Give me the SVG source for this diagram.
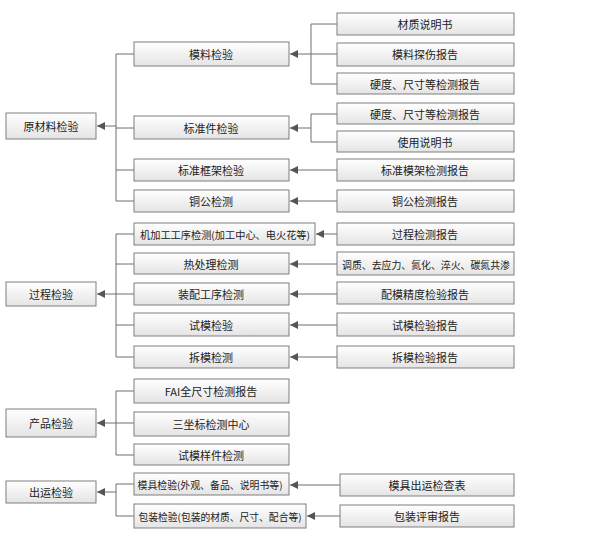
<svg xmlns="http://www.w3.org/2000/svg" width="600" height="538" viewBox="0 0 600 538">
<style>
.b{fill:url(#g);stroke:#7f7f7f;stroke-width:1}
.t{font-family:"Noto Sans CJK SC","Liberation Sans",sans-serif;font-size:11px;fill:#222;text-anchor:middle;dominant-baseline:central}
.s{font-size:10px}
.c{fill:none;stroke:#6e6e6e;stroke-width:1}
.a{fill:none;stroke:#6e6e6e;stroke-width:1;marker-end:url(#m)}
</style>
<defs>
<linearGradient id="g" x1="0" y1="0" x2="0" y2="1"><stop offset="0" stop-color="#ffffff"/><stop offset="1" stop-color="#e4e4e4"/></linearGradient>
<marker id="m" viewBox="0 0 8 8" refX="8" refY="4" markerWidth="8" markerHeight="8" markerUnits="userSpaceOnUse" orient="auto"><path d="M0,0L8,4L0,8z" fill="#555"/></marker>
</defs>
<rect width="600" height="538" fill="#fff"/>
<g id="connectors">
<path class="c" d="M134,54H116V201H134M116,128H134M116,170H134"/>
<path class="a" d="M116,126H97"/>
<path class="c" d="M337,24H311V84H337M311,54H337"/>
<path class="a" d="M311,54H290"/>
<path class="c" d="M337,114H311V142H337"/>
<path class="a" d="M311,128H290"/>
<path class="a" d="M337,170H290"/>
<path class="a" d="M337,201H290"/>
<path class="c" d="M134,234H116V357H134M116,264H134M116,325H134"/>
<path class="a" d="M134,294H97"/>
<path class="a" d="M337,234H316"/>
<path class="a" d="M337,264H290"/>
<path class="a" d="M337,294H290"/>
<path class="a" d="M337,325H290"/>
<path class="a" d="M337,357H290"/>
<path class="c" d="M134,391H116V455H134"/>
<path class="a" d="M134,423H97"/>
<path class="c" d="M134,484H116V516H134"/>
<path class="a" d="M116,492H97"/>
<path class="a" d="M340,485H290"/>
<path class="a" d="M340,516H307"/>
</g>
<g id="n1"><rect class="b" x="6" y="113" width="90" height="26"/><text class="t" x="51" y="126">原材料检验</text></g>
<g id="n2"><rect class="b" x="134" y="42" width="155" height="24"/><text class="t" x="211" y="54">模料检验</text></g>
<g id="n3"><rect class="b" x="337" y="13" width="177" height="22"/><text class="t" x="425" y="24">材质说明书</text></g>
<g id="n4"><rect class="b" x="337" y="43" width="177" height="23"/><text class="t" x="425" y="54">模料探伤报告</text></g>
<g id="n5"><rect class="b" x="337" y="73" width="177" height="21"/><text class="t" x="425" y="84">硬度、尺寸等检测报告</text></g>
<g id="n6"><rect class="b" x="134" y="116" width="155" height="23"/><text class="t" x="211" y="128">标准件检验</text></g>
<g id="n7"><rect class="b" x="337" y="103" width="177" height="21"/><text class="t" x="425" y="114">硬度、尺寸等检测报告</text></g>
<g id="n8"><rect class="b" x="337" y="131" width="177" height="21"/><text class="t" x="425" y="142">使用说明书</text></g>
<g id="n9"><rect class="b" x="134" y="159" width="155" height="22"/><text class="t" x="211" y="170">标准框架检验</text></g>
<g id="n10"><rect class="b" x="337" y="159" width="177" height="22"/><text class="t" x="425" y="170">标准模架检测报告</text></g>
<g id="n11"><rect class="b" x="134" y="190" width="155" height="22"/><text class="t" x="211" y="201">铜公检测</text></g>
<g id="n12"><rect class="b" x="337" y="190" width="177" height="22"/><text class="t" x="425" y="201">铜公检测报告</text></g>
<g id="n13"><rect class="b" x="6" y="282" width="90" height="24"/><text class="t" x="51" y="294">过程检验</text></g>
<g id="n14"><rect class="b" x="134" y="223" width="181" height="22"/><text class="t s" x="225" y="234" textLength="170" lengthAdjust="spacingAndGlyphs">机加工工序检测(加工中心、电火花等)</text></g>
<g id="n15"><rect class="b" x="337" y="223" width="177" height="22"/><text class="t" x="425" y="234">过程检测报告</text></g>
<g id="n16"><rect class="b" x="134" y="253" width="155" height="21"/><text class="t" x="211" y="264">热处理检测</text></g>
<g id="n17"><rect class="b" x="337" y="252" width="177" height="23"/><text class="t s" x="426" y="264" textLength="168" lengthAdjust="spacingAndGlyphs">调质、去应力、氮化、淬火、碳氮共渗</text></g>
<g id="n18"><rect class="b" x="134" y="283" width="155" height="22"/><text class="t" x="211" y="294">装配工序检测</text></g>
<g id="n19"><rect class="b" x="337" y="282" width="177" height="22"/><text class="t" x="425" y="294">配模精度检验报告</text></g>
<g id="n20"><rect class="b" x="134" y="313" width="155" height="23"/><text class="t" x="211" y="325">试模检验</text></g>
<g id="n21"><rect class="b" x="337" y="313" width="177" height="23"/><text class="t" x="425" y="325">试模检验报告</text></g>
<g id="n22"><rect class="b" x="134" y="346" width="155" height="22"/><text class="t" x="211" y="357">拆模检测</text></g>
<g id="n23"><rect class="b" x="337" y="346" width="177" height="22"/><text class="t" x="425" y="357">拆模检验报告</text></g>
<g id="n24"><rect class="b" x="6" y="409" width="90" height="28"/><text class="t" x="51" y="423">产品检验</text></g>
<g id="n25"><rect class="b" x="134" y="379" width="155" height="24"/><text class="t" x="211" y="391">FAI全尺寸检测报告</text></g>
<g id="n26"><rect class="b" x="134" y="412" width="155" height="24"/><text class="t" x="211" y="424">三坐标检测中心</text></g>
<g id="n27"><rect class="b" x="134" y="444" width="155" height="21"/><text class="t" x="211" y="455">试模样件检测</text></g>
<g id="n28"><rect class="b" x="6" y="481" width="90" height="22"/><text class="t" x="51" y="492">出运检验</text></g>
<g id="n29"><rect class="b" x="134" y="473" width="155" height="22"/><text class="t s" x="210" y="484" textLength="145" lengthAdjust="spacingAndGlyphs">模具检验(外观、备品、说明书等)</text></g>
<g id="n30"><rect class="b" x="340" y="474" width="174" height="22"/><text class="t" x="427" y="485">模具出运检查表</text></g>
<g id="n31"><rect class="b" x="134" y="504" width="172" height="24"/><text class="t s" x="220" y="516" textLength="163" lengthAdjust="spacingAndGlyphs">包装检验(包装的材质、尺寸、配合等)</text></g>
<g id="n32"><rect class="b" x="340" y="505" width="174" height="22"/><text class="t" x="427" y="516">包装评审报告</text></g>
</svg>
